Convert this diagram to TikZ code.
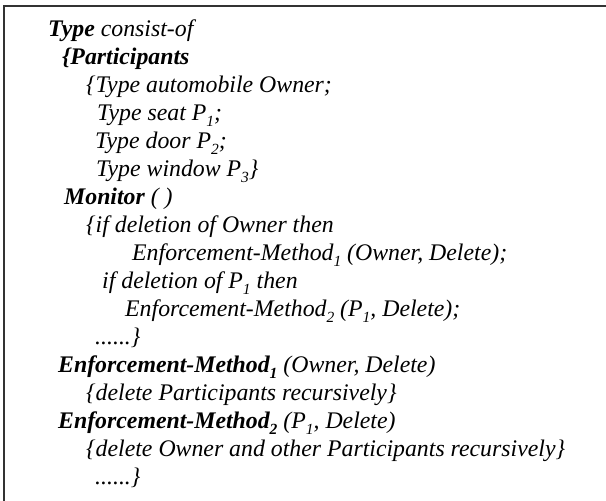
\documentclass[tikz,border=0pt]{standalone}
\usepackage{fontspec}
\setmainfont{Liberation Serif}
\newcommand{\lowix}[1]{\raisebox{-0.28em}{\fontsize{15.5}{15.5}\selectfont #1}}
\begin{document}
\begin{tikzpicture}[x=1pt,y=-1pt,
  codeline/.style={anchor=base west,inner sep=0pt,
    font=\fontsize{23.8}{28}\selectfont\itshape}]
\useasboundingbox (0,0) rectangle (606,501);
% frame: only its top and left sides fall inside the page
\begin{scope}
\clip (0,0) rectangle (606,501);
\draw[line width=1.2pt,black!80] (4,520) -- (4,6) -- (620,6);
\end{scope}
\node[codeline] (l1)  at (48,36)  {\textbf{Type} consist-of};
\node[codeline] (l2)  at (62,64)  {\textbf{\{Participants}};
\node[codeline] (l3)  at (86,92)  {\{Type automobile Owner;};
\node[codeline] (l4)  at (97,120) {Type seat P\lowix{1};};
\node[codeline] (l5)  at (95,148) {Type door P\lowix{2};};
\node[codeline] (l6)  at (96,176) {Type window P\lowix{3}\}};
\node[codeline] (l7)  at (64,204) {\textbf{Monitor} ( )};
\node[codeline] (l8)  at (86,232) {\{if deletion of Owner then};
\node[codeline] (l9)  at (132,260) {Enforcement-Method\lowix{1} (Owner, Delete);};
\node[codeline] (l10) at (102,288) {if deletion of P\lowix{1} then};
\node[codeline] (l11) at (125,316) {Enforcement-Method\lowix{2} (P\lowix{1}, Delete);};
\node[codeline] (l12) at (95,344) {......\}};
\node[codeline] (l13) at (58,372) {\textbf{Enforcement-Method\lowix{1}} (Owner, Delete)};
\node[codeline] (l14) at (86,400) {\{delete Participants recursively\}};
\node[codeline] (l15) at (58,428) {\textbf{Enforcement-Method\lowix{2}} (P\lowix{1}, Delete)};
\node[codeline] (l16) at (86,456) {\{delete Owner and other Participants recursively\}};
\node[codeline] (l17) at (95,484) {......\}};
\end{tikzpicture}
\end{document}
